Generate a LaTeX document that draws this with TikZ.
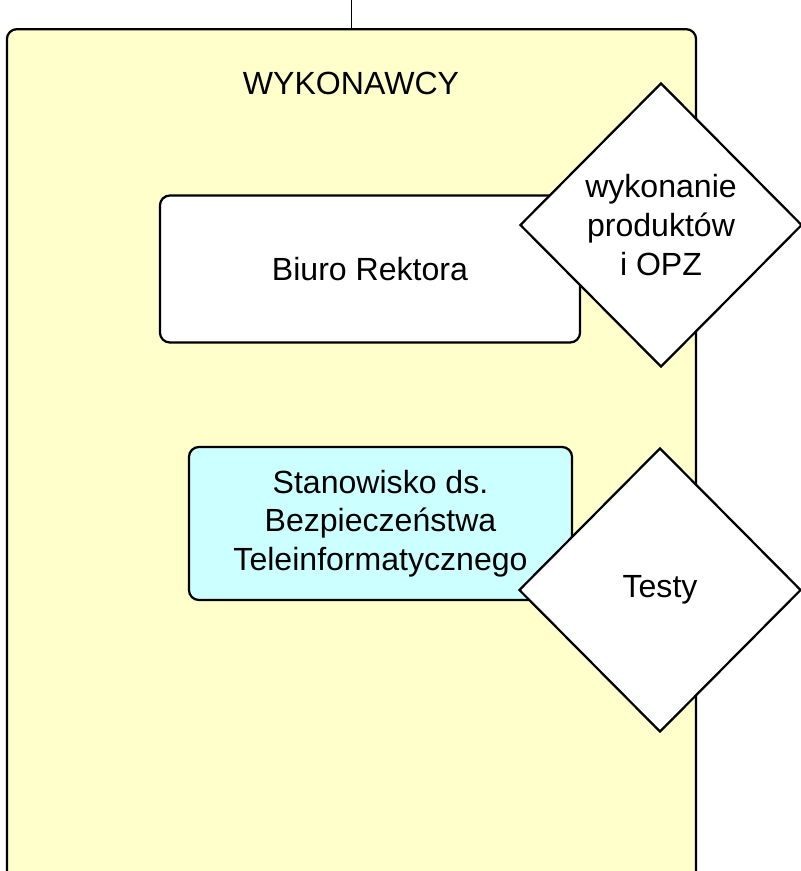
\documentclass[tikz,border=0pt]{standalone}
\usepackage{fontspec}
\setmainfont{Liberation Sans}
\usetikzlibrary{shapes.geometric}
\definecolor{paleyellow}{HTML}{FFFFCC}
\definecolor{palecyan}{HTML}{CCFFFF}
\tikzset{
	unitbox/.style={draw, line width=1.6pt, rounded corners=0.25cm, align=center, inner sep=0pt},
	taskdiamond/.style={draw, line width=1.6pt, fill=white, diamond, align=center, inner sep=0pt,
		minimum width=7.05cm, minimum height=7.1cm},
	bigtext/.style={font=\fontsize{22.8}{27.5}\selectfont}
}

\begin{document}
\begin{tikzpicture}[x=0.025cm, y=-0.025cm]
			%%%%% START %%%%%
			\useasboundingbox (0, 0) rectangle (801, 871);
			\clip (0, 0) rectangle (801, 871);
			
			\coordinate (top) at (351.5, 0);
			\node[unitbox, fill=paleyellow, anchor=north, minimum width=17.225cm, minimum height=22cm] (wykonawcy) at (351.5, 28) {};
			\draw[line width=1.2pt] (top) -- (wykonawcy.north);
			\node[bigtext] (tytul) at (351, 83) {WYKONAWCY};
			
			\node[unitbox, fill=white, bigtext, minimum width=10.5cm, minimum height=3.675cm] (rektor) at (370, 269) {Biuro Rektora};
			\node[taskdiamond, bigtext] (produkty) at (661, 225) {wykonanie\\produktów\\i OPZ};
			
			\node[unitbox, fill=palecyan, bigtext, minimum width=9.575cm, minimum height=3.825cm] (bezpiecz) at (380.5, 523.5) {Stanowisko ds.\\Bezpieczeństwa\\Teleinformatycznego};
			\node[taskdiamond, bigtext] (testy) at (660, 590) {Testy};
			%%%%% END %%%%%
\end{tikzpicture}
\end{document}
